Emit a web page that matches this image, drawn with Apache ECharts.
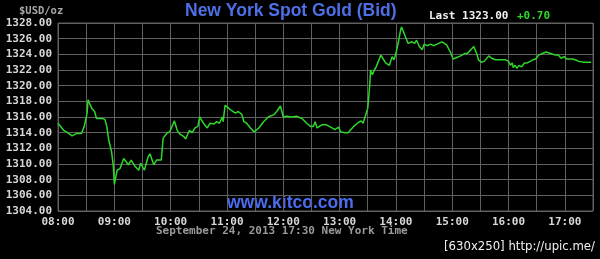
<!DOCTYPE html>
<html>
<head>
<meta charset="utf-8">
<script src="https://cdn.jsdelivr.net/npm/echarts@6/dist/echarts.min.js"></script>
<style>
html,body{margin:0;padding:0;background:#000;}
#chart{width:600px;height:259px;}
</style>
</head>
<body>
<div id="chart"></div>
<script>
// ---- data ----
var times = ["08:00","08:02","08:06","08:09","08:15","08:20","08:25","08:28","08:31","08:32",
"08:36","08:39","08:41","08:47","08:50","08:52","08:54","08:57","08:59","09:00",
"09:03","09:06","09:10","09:12","09:15","09:18","09:22","09:26","09:28","09:32",
"09:36","09:38","09:42","09:45","09:50","09:52","09:56","09:59","10:04","10:07",
"10:10","10:14","10:16","10:20","10:23","10:26","10:29","10:31","10:35","10:39",
"10:42","10:46","10:49","10:52","10:55","10:56","10:58","11:02","11:05","11:09",
"11:12","11:16","11:18","11:21","11:25","11:29","11:34","11:39","11:44","11:50",
"11:53","11:57","12:00","12:04","12:09","12:14","12:20","12:25","12:29","12:32",
"12:34","12:36","12:41","12:46","12:52","12:55","12:59","13:01","13:06","13:09",
"13:15","13:20","13:23","13:25","13:27","13:30","13:32","13:33","13:35","13:37",
"13:39","13:41","13:44","13:46","13:49","13:51","13:53","13:56","13:58","14:00",
"14:03","14:05","14:06","14:08","14:11","14:13","14:17","14:20","14:22","14:25",
"14:28","14:30","14:33","14:37","14:40","14:44","14:49","14:54","14:58","15:01",
"15:05","15:09","15:13","15:16","15:20","15:23","15:26","15:28","15:31","15:34",
"15:39","15:42","15:46","15:51","15:57","16:00","16:02","16:04","16:05","16:07",
"16:09","16:11","16:14","16:17","16:20","16:23","16:26","16:29","16:32","16:36",
"16:40","16:45","16:50","16:53","16:56","16:59","17:02","17:04","17:08","17:11",
"17:15","17:20","17:25","17:28"];
var prices = [1315.2,1315.4,1314.3,1314.1,1313.6,1313.9,1313.9,1314.8,1316.5,1318.2,
1317.1,1316.7,1315.8,1315.8,1315.7,1314.8,1313.1,1311.6,1309.7,1307.4,
1309.2,1309.4,1310.7,1310.9,1309.9,1310.5,1309.7,1309.2,1310.1,1309.2,
1310.9,1311.3,1309.9,1310.5,1310.5,1313.3,1313.9,1314.1,1315.5,1314.3,
1313.8,1313.5,1313.2,1314.3,1314.0,1314.6,1314.8,1316.0,1315.2,1314.6,
1315.2,1315.1,1315.4,1315.2,1316.0,1315.4,1317.5,1317.1,1316.8,1316.5,
1316.7,1316.3,1315.4,1315.2,1314.6,1314.1,1314.6,1315.4,1316.0,1316.3,
1316.7,1317.4,1316.0,1316.1,1316.0,1316.1,1315.8,1315.2,1314.8,1314.8,
1315.4,1314.6,1315.0,1315.0,1314.6,1314.4,1314.7,1314.1,1314.0,1314.0,
1314.8,1315.3,1315.5,1315.2,1315.4,1317.1,1319.9,1322.0,1321.4,1322.0,
1322.4,1322.2,1323.9,1323.5,1322.9,1323.1,1322.6,1323.7,1323.3,1324.1,
1325.8,1327.1,1327.5,1326.9,1326.0,1325.4,1325.6,1325.4,1325.8,1325.0,
1324.6,1325.3,1325.1,1325.3,1325.1,1325.3,1325.6,1325.2,1324.3,1323.4,
1323.6,1323.8,1324.1,1324.1,1324.6,1325.0,1324.1,1323.3,1323.0,1323.1,
1323.8,1323.5,1323.3,1323.3,1323.3,1323.1,1322.6,1322.9,1322.3,1322.6,
1322.2,1322.6,1322.4,1322.9,1322.9,1323.1,1323.3,1323.4,1323.9,1324.1,
1324.3,1324.1,1323.9,1323.9,1323.5,1323.7,1323.4,1323.6,1323.4,1323.3,
1323.1,1323.0,1323.0,1323.0];
var hourLabels = ["08:00","09:00","10:00","11:00","12:00","13:00","14:00","15:00","16:00","17:00"];
var yMin = 1304, yMax = 1328, yStep = 2;
var startTime = "08:00", endTime = "17:30";
var titleText = "New York Spot Gold (Bid)";
var unitText = "$USD/oz";
var lastText = "Last 1323.00";
var changeText = "+0.70";
var dateText = "September 24, 2013 17:30 New York Time";
var siteText = "www.kitco.com";
var creditText = "[630x250] http://upic.me/";

function toMin(t){var p=t.split(":");return (+p[0])*60+(+p[1]);}
var t0 = toMin(startTime), t1 = toMin(endTime);
var seriesData = times.map(function(t,i){return [toMin(t)-t0, prices[i]];});

var mono = "'DejaVu Sans Mono', 'Liberation Mono', monospace";
var chart = echarts.init(document.getElementById('chart'), null, {renderer:'canvas'});
chart.setOption({
  backgroundColor:'#000',
  animation:false,
  grid:{left:58,top:23,right:7,bottom:48,show:true,borderColor:'#606060',borderWidth:1,backgroundColor:'#000'},
  xAxis:{
    type:'value', min:0, max:t1-t0, interval:30,
    axisLine:{show:false}, axisTick:{show:false},
    splitLine:{show:true,lineStyle:{color:'#606060',width:1}},
    axisLabel:{
      color:'#d8d8d8', fontFamily:mono, fontSize:11, fontWeight:'bold', margin:6,
      showMaxLabel:false,
      formatter:function(v){
        var m=v+t0; if(m%60!==0) return '';
        var h=Math.floor(m/60); var s=(h<10?'0':'')+h+':00';
        return hourLabels.indexOf(s)>=0?s:'';
      }
    }
  },
  yAxis:{
    type:'value', min:yMin, max:yMax, interval:yStep,
    axisLine:{show:false}, axisTick:{show:false},
    splitLine:{show:true,lineStyle:{color:'#606060',width:1}},
    axisLabel:{color:'#d8d8d8', fontFamily:mono, fontSize:11, fontWeight:'bold', margin:6,
      formatter:function(v){return v.toFixed(2);}}
  },
  series:[{
    type:'line', data:seriesData, showSymbol:false, symbol:'none',
    lineStyle:{color:'#2fd62a',width:1.5}, smooth:false
  }],
  graphic:[
    {type:'text',left:19,top:6,style:{text:unitText,fill:'#a8a8a8',font:"bold 10.5px "+mono}},
    {type:'text',left:185,top:2,style:{text:titleText,fill:'#4f6fe6',font:"bold 17.5px 'Liberation Sans', Arial, sans-serif"}},
    {type:'text',left:429,top:11,style:{text:lastText,fill:'#f0f0f0',font:"bold 11px "+mono}},
    {type:'text',left:517,top:11,style:{text:changeText,fill:'#2fd62a',font:"bold 11px "+mono}},
    {type:'text',left:227,top:194,style:{text:siteText,fill:'#4a6cf0',font:"bold 17.5px 'Liberation Sans', Arial, sans-serif"}},
    {type:'text',left:156,top:226,style:{text:dateText,fill:'#9a9a9a',font:"bold 11px "+mono}},
    {type:'text',right:5,top:240,style:{text:creditText,fill:'#f0f0f0',font:"13px 'Liberation Sans Narrow', 'DejaVu Sans Condensed', sans-serif"}}
  ]
});
</script>
</body>
</html>
